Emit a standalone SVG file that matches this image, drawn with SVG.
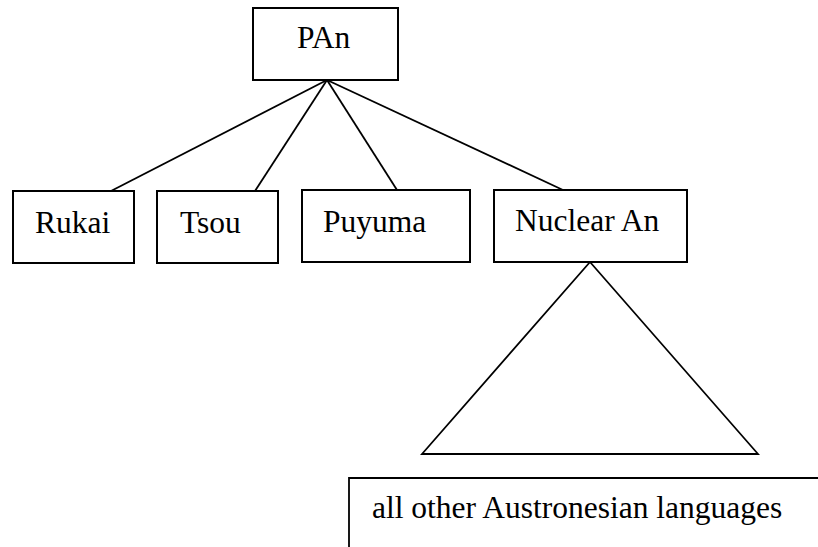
<svg xmlns="http://www.w3.org/2000/svg" width="818" height="547" viewBox="0 0 818 547">
<style>
.box{fill:#fff;stroke:#000;stroke-width:2}
.ln{fill:none;stroke:#000;stroke-width:1.8}
text{font-family:"Liberation Serif","Times New Roman",serif;font-size:31.5px;fill:#000}
</style>
<rect width="818" height="547" fill="#fff"/>
<g id="connectors">
<line class="ln" x1="327" y1="80" x2="111" y2="191"/>
<line class="ln" x1="327" y1="80" x2="255" y2="191"/>
<line class="ln" x1="327" y1="80" x2="397" y2="190"/>
<line class="ln" x1="327" y1="80" x2="563" y2="190"/>
<polygon class="ln" points="590,262 422,454 758,454"/>
</g>
<g id="pan"><rect class="box" x="253" y="8" width="145" height="72"/><text x="297" y="48">PAn</text></g>
<g id="rukai"><rect class="box" x="13" y="191" width="121" height="72"/><text x="35" y="233">Rukai</text></g>
<g id="tsou"><rect class="box" x="157" y="191" width="121" height="72"/><text x="180" y="233">Tsou</text></g>
<g id="puyuma"><rect class="box" x="302" y="190" width="168" height="72"/><text x="323" y="232">Puyuma</text></g>
<g id="nuclear"><rect class="box" x="494" y="190" width="193" height="72"/><text x="515" y="231">Nuclear An</text></g>
<g id="others"><polyline class="ln" points="349,547 349,478 818,478"/><text x="372" y="518">all other Austronesian languages</text></g>
</svg>
